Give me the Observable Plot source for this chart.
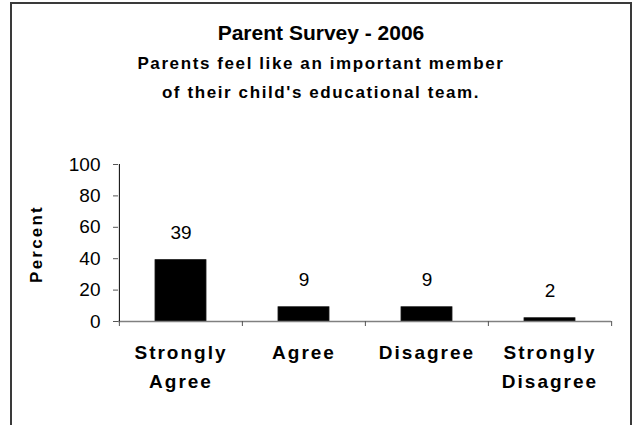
<!DOCTYPE html>
<html>
<head>
<meta charset="utf-8">
<script src="https://cdn.jsdelivr.net/npm/d3@7"></script>
<script src="https://cdn.jsdelivr.net/npm/@observablehq/plot@0.6"></script>
<style>
  html, body { margin: 0; padding: 0; background: #fff; overflow: hidden; }
  #wrap { position: relative; width: 637px; height: 425px; overflow: hidden; font-family: "Liberation Sans", Arial, sans-serif; color: #000; }
  #border { position: absolute; left: 10px; top: 2px; width: 622px; height: 460px; border: 2px solid #3a3a3a; box-sizing: border-box; }
  .t { position: absolute; left: 11px; width: 620px; text-align: center; font-weight: bold; white-space: nowrap; }
  #title { top: 21px; font-size: 21px; }
  #sub1 { top: 54px; font-size: 17px; letter-spacing: 1.6px; }
  #sub2 { top: 83px; font-size: 17px; letter-spacing: 1.6px; }
  #ylab { position: absolute; left: 37px; top: 244px; transform: translate(-50%, -50%) rotate(-90deg); font-weight: bold; font-size: 17px; letter-spacing: 2.2px; white-space: nowrap; }
  #chart { position: absolute; left: 0; top: 0; }
</style>
</head>
<body>
<div id="wrap">
  <div id="chart"></div>
  <div id="border"></div>
  <div class="t" id="title">Parent Survey - 2006</div>
  <div class="t" id="sub1">Parents feel like an important member</div>
  <div class="t" id="sub2">of their child's educational team.</div>
  <div id="ylab">Percent</div>
</div>
<script>
const categories = ["Strongly Agree", "Agree", "Disagree", "Strongly Disagree"];
const values = [39, 9, 9, 2];
const yTicks = [0, 20, 40, 60, 80, 100];

const data = categories.map((c, i) => ({cat: c, value: values[i]}));

const W = 637, H = 425;
const mL = 118, mR = 26, mT = 164, mB = 104;
const bw = (W - mL - mR) / categories.length;
const inset = (bw - 51) / 2;

const chart = Plot.plot({
  width: W,
  height: H,
  marginLeft: mL,
  marginRight: mR,
  marginTop: mT,
  marginBottom: mB,
  style: {background: "transparent", fontFamily: "'Liberation Sans', Arial, sans-serif", color: "#000"},
  x: {domain: categories, padding: 0, label: null},
  y: {domain: [0, 100], label: null},
  marks: [
    Plot.barY(data, {x: "cat", y: "value", fill: "#000", stroke: "#000", insetLeft: inset, insetRight: inset}),
    Plot.ruleY([0], {stroke: "#808080", strokeWidth: 1.5}),
    Plot.ruleX([categories[0]], {x: d => d, y1: 0, y2: 100, dx: -bw / 2, stroke: "#000", strokeWidth: 1}),
    Plot.axisY({ticks: yTicks, tickSize: 5, tickPadding: 13, fontSize: 19, label: null, stroke: "#555"}),
    Plot.axisX({tickSize: 5, dx: -bw / 2, tickFormat: () => "", stroke: "#555", label: null}),
    Plot.axisX({ticks: [categories[categories.length - 1]], tickSize: 5, dx: bw / 2, tickFormat: () => "", stroke: "#555", label: null}),
    Plot.axisX({tickSize: 0, tickPadding: 17, fontSize: 19, fontWeight: "bold", lineHeight: 1.53,
      tickFormat: d => d.replace(" ", "\n"), label: null}),
    Plot.text(data, {x: "cat", y: "value", text: d => String(d.value), dy: -27, fontSize: 19, fill: "#000"})
  ]
});
// widen the category labels' letter spacing, as in the original
chart.querySelectorAll("text").forEach(t => {
  if (t.querySelector("tspan") || categories.includes(t.textContent)) t.style.letterSpacing = "2px";
});
document.getElementById("chart").appendChild(chart);
</script>
</body>
</html>
